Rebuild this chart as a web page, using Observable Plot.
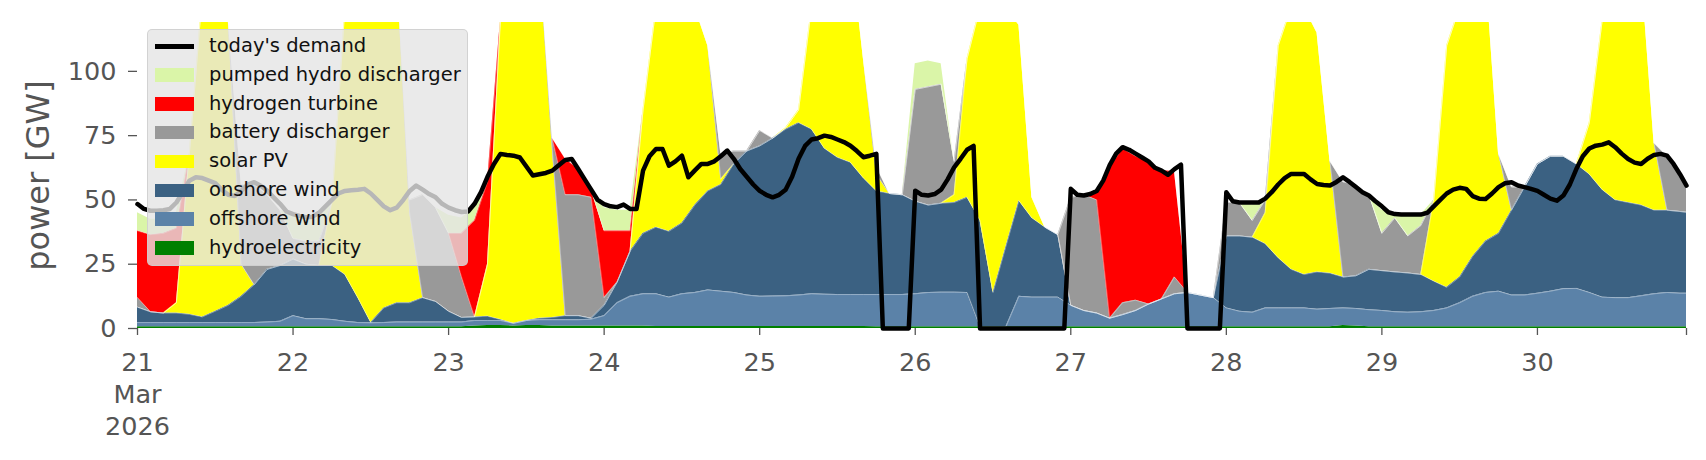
<!DOCTYPE html>
<html><head><meta charset="utf-8">
<script src="https://cdn.jsdelivr.net/npm/d3@7"></script>
<script src="https://cdn.jsdelivr.net/npm/@observablehq/plot@0.6"></script>
<style>
body{margin:0;background:#fff;font-family:"DejaVu Sans",sans-serif;}
#wrap{position:relative;width:1706px;height:460px;overflow:hidden;}
#legend{position:absolute;left:147px;top:29px;width:321px;height:237px;background:rgba(229,229,229,0.8);border:1px solid rgba(204,204,204,0.8);border-radius:5px;box-sizing:border-box;}
.row{position:absolute;left:0;height:28px;width:320px;}
.sw{position:absolute;left:7px;width:39px;}
.lab{position:absolute;left:61px;top:0;line-height:28px;font-size:19.5px;color:#111;white-space:nowrap;}
</style>
</head><body>
<div id="wrap"><div id="chart"></div><div id="legend"></div></div>
<script>
// ---- data (GW) ----
const seriesNames = ["hydroelectricity","offshore wind","onshore wind","solar PV","battery discharger","hydrogen turbine","pumped hydro discharger"];
const seriesColors = ["#008000","#5b82a8","#3b6182","#ffff00","#999999","#ff0000","#daf5a8"];
// area samples every 2 hours from 21 Mar 00:00, last sample at 30 Mar 23:00
const hydro = [
 .7,.7,.7,.7,.7,.7,.7,.7,.7,.7,.7,.7,
 .7,.7,.7,.7,.7,.7,.7,.7,.7,.7,.7,.7,
 .7,.7,1,1.2,1.2,1,1.2,1.2,1,1,1,1,
 1,1,1,1,.8,.8,.8,.8,.8,.8,.8,.8,
 .8,.8,.8,.8,.8,.8,.8,.8,.8,.7,.7,.7,
 .7,.7,.7,.7,.7,.7,.7,.7,.7,.7,.7,.7,
 .7,.7,.7,.7,.7,.7,.7,.7,.7,.7,.7,.7,
 .7,.7,.7,.7,.7,.7,.7,.7,.7,1.2,1,.7,
 .7,.7,.7,.7,.7,.7,.7,.7,.7,.7,.7,.7,
 .7,.7,.7,.7,.7,.7,.7,.7,.7,.7,.7,.7,
 .7];
const offshore = [
 1.6,1.6,1.6,1.6,1.6,1.6,1.6,1.6,1.6,1.6,1.8,2.1,
 4.3,3.1,3.1,2.8,2.1,1.6,1.5,1.6,1.8,1.8,1.8,1.8,
 1.8,1.8,2.1,1.9,1.9,1.0,1.9,2.2,2.4,2.4,2.4,2.6,
 4,9,11.5,12.5,12.7,11.4,12.7,13.2,14.2,13.7,13.2,12.2,
 11.7,11.8,11.9,12.2,12.7,12.5,12.4,12.4,12.4,12.5,12.5,12.5,
 12.8,13.3,13.4,13.4,13.3,0,0,0,11.8,11.5,11.5,11.5,
 8.3,6.3,5.3,3.3,4.7,6.3,8.8,10.8,12.8,13.3,12.3,11.3,
 7.3,6,5.6,7.3,7.3,7.3,7.3,6.8,7.1,6.8,6.8,6.6,
 6.3,5.8,5.6,5.8,6.3,7.3,9.3,11.8,13.3,13.8,12.3,12.3,
 13,13.8,14.8,14.9,13.3,11.5,11.3,11.3,12,12.8,13.3,13,
 13];
const onshore = [
 6,4.2,3.7,3.7,3.2,2.2,4.4,6.7,10.2,14.7,20.5,21.7,
 22,21.2,20.7,21,18.2,9.7,0.1,5.7,7.5,7.5,9.5,8,
 4.2,1.8,1.4,1.7,0.4,0,0,0.6,0.9,1.6,1.6,0.4,
 4,8,17.5,23.5,25.9,25.6,27.5,34,38.5,41.5,50,56,
 58.5,61.4,64.8,67,64,56.7,53.3,51.4,45.3,40.3,39.3,38.8,
 36,34,34.6,34.9,37,41.3,13.3,31.3,37.2,30.8,27.2,24.3,
 0,0,0,0,0,0,0,0,0,0,0,0,
 28,29.3,29.2,25,19.5,15,13,14.5,13.7,12,12.7,15.7,
 15.5,15.5,15.3,14.5,11.4,8,10,15.5,20,22.5,33,42,
 50.3,52.5,51.5,48.4,46,41.8,38,37,35.3,32.5,32,31.8,
 31.5];
const solar = [
 0,0,0,4,62.5,125.5,143.3,111,12.5,0,0,0,
 0,0,0,24.5,104,123,137.7,132,130,35,0,0,
 0,0,0,20.2,116.5,133,136.9,141,65.7,0,0,0,
 0,0,0,48,85.6,87.2,84,77,56.5,2,0,0,
 0,0,0.5,5,47.5,55,58.5,85.4,46.5,6.5,0,0,
 0,0,0,3,54,83,111,93,68.3,8,0,0,
 0,0,0,0,0,0,0,0,0,0,0,0,
 0,0,0,12,82.5,102,104,93,43.5,0,0,0,
 0,0,0,0,31.6,94,105,97,106,31,0,0,
 0,0,0,0,20,66,75,76,92,26,0,0,
 0];
const battery = [
 3.7,0,0,0,0,0,0,0,31,39,29,21.5,
 8,9,9.5,0,0,0,0,0,0,5,40,36.5,
 30.3,15.7,0,0,0,0,0,0,4,47,47,47,
 3,0,0,0,0,0,0,0,0,10,5,0,
 6,0,0,0,0,0,0,0,0,3,0,0,
 43.5,46,46.3,13,0,0,0,0,0,0,0,0,
 42,45,44,0,4.6,4,0,0,6.5,0,0,0,
 13,13,6.5,5,0,0,0,0,0,37,35.5,29,
 14.5,21,14.4,19,0,0,0,0,0,0,9,0,
 0,0,0,0,0,0,0,0,0,0,21,14.5,
 11];
const hydrogen = [
 26,30,31,29,0,0,0,0,0,0,0,0,
 0,0,0,0,0,0,0,0,0,0,0,0,
 0,17,37.5,32,0,0,0,0,0,14,10,3,
 26,20,8,0,0,0,0,0,0,0,0,0,
 0,0,0,0,0,0,0,0,0,0,0,0,
 0,0,0,0,0,0,0,0,0,0,0,0,
 0,0,3,59,60,56,55.5,50,41,0,0,0,
 0,0,0,0,0,0,0,0,0,0,0,0,
 0,0,0,0,0,0,0,0,0,0,0,0,
 0,0,0,0,0,0,0,0,0,0,0,0,
 0];
const pumpedHydro = [
 7,6,5.5,6,0,0,0,0,0,0,0,0,
 9,9,9,0,0,0,0,0,0,0,0,0,
 7,6,5,0,0,0,0,0,0,0,0,0,
 9,8,8,0,0,0,0,0,0,0,0,0,
 0,0,0,0,0,0,0,0,0,0,0,0,
 10,10,8,0,0,0,0,0,0,0,0,0,
 0,0,0,0,0,0,0,0,0,0,0,0,
 0,0,6,0,0,0,0,0,0,0,0,0,
 9,2,8,4,0,0,0,0,0,0,0,0,
 0,0,0,0,0,0,0,0,0,0,0,0,
 0];
// hourly demand
const demand = [
 48.4,46.5,45.8,45.8,46,46.5,49,53,57.5,58.8,58.5,57.5,56.5,54,52,51.5,53.5,56,56.9,55.5,53.6,51,48.5,45.5,
 44.5,43.8,43.3,43.5,45,47.5,50,52.5,53.5,53.8,54,54.3,52.5,50,47.5,46,47,50,53.5,55.6,54,52.3,51,48.5,
 47,46,45.3,45.5,48.5,53,59,64,67.9,67.5,67.2,66.5,63,59.5,60,60.5,61.4,63.5,65.5,65.9,62,58,54,50,
 48.4,47.5,47.2,48.2,46.5,46.5,61.4,67,69.8,69.8,63.3,65,67.2,58.8,61.5,64,64,65,67,69.2,66,62,59,56,
 53.5,52,51,52,54,59,66,71,73.5,74,75,74.5,73.5,72.5,71.1,69,66.6,67.2,67.9,0,0,0,0,0,
 53.6,52,51.7,52.3,54,58,62.7,66,69.5,71,0,0,0,0,0,0,0,0,0,0,0,0,0,0,
 54.3,52,51.7,52.3,53.5,57.5,63.5,68,70.5,69.5,68,66.5,65,62.5,61.4,59.8,62,63.7,0,0,0,0,0,0,
 53,49.5,49,49,49,49,50.5,53,56,58.5,60.1,60.1,60.1,58,56.2,55.8,55.6,57,58.8,57,55,53,51.7,49.5,
 47.5,45.2,44.5,44.3,44.3,44.3,44.3,45,47.5,50,52.5,54,54.7,54.3,51.5,50.5,50.4,52.5,55,56.5,56.9,55.6,55,54.3,
 53.5,52,50.5,49.7,51.7,56,62,67,70,71.1,71.5,72.4,70.5,68,65.9,64.5,64,66,67.5,67.9,67.2,64,60,55.6];
const yTicks = [0,25,50,75,100];
const dayLabels = ["21\nMar\n2026","22","23","24","25","26","27","28","29","30",""];
const legendItems = [
 ["today's demand","#000000","line"],
 ["pumped hydro discharger","#daf5a8","patch"],
 ["hydrogen turbine","#ff0000","patch"],
 ["battery discharger","#999999","patch"],
 ["solar PV","#ffff00","patch"],
 ["onshore wind","#3b6182","patch"],
 ["offshore wind","#5b82a8","patch"],
 ["hydroelectricity","#008000","patch"]];

// ---- build tables ----
const HOUR = 3600e3;
const start = Date.UTC(2026, 2, 21);
const t = h => new Date(start + h * HOUR);
const areaHours = d3.range(0, 240, 2).concat([239]);
const seriesValues = [hydro, offshore, onshore, solar, battery, hydrogen, pumpedHydro];
const rows = [];
seriesNames.forEach((name, k) => seriesValues[k].forEach((v, i) => rows.push({time: t(areaHours[i]), series: name, value: v})));
const seamSet = new Set(["offshore wind","onshore wind","solar PV","battery discharger","hydrogen turbine"]);
const seams = [];
areaHours.forEach((h, i) => {
  let acc = 0;
  seriesNames.forEach((name, k) => { acc += seriesValues[k][i]; if (seamSet.has(name)) seams.push({time: t(h), series: name, top: acc}); });
});
const demandRows = demand.map((v, h) => ({time: t(h), value: v}));
const xTicks = d3.range(0, 240, 24).concat([239]).map(t);

const chart = Plot.plot({
  width: 1706, height: 460,
  marginLeft: 137, marginRight: 20, marginTop: 22, marginBottom: 132,
  x: {type: "utc", domain: [t(0), t(239)]},
  y: {domain: [0, 119]},
  color: {domain: seriesNames, range: seriesColors},
  style: {fontFamily: "DejaVu Sans, sans-serif", fontSize: "25.5px", color: "#555", background: "white", overflow: "visible"},
  marks: [
    Plot.areaY(rows, {x: "time", y: "value", z: "series", fill: "series", order: seriesNames, clip: true}),
    Plot.line(seams, {x: "time", y: "top", z: "series", stroke: "white", strokeOpacity: 0.45, strokeWidth: 0.8, clip: true}),
    Plot.lineY(demandRows, {x: "time", y: "value", stroke: "black", strokeWidth: 4.5, strokeLinejoin: "round"}),
    Plot.axisY({ticks: yTicks, tickSize: 9, tickPadding: 12, label: null, fill: "#555", stroke: "#555", strokeWidth: 1.3}),
    Plot.axisX({ticks: xTicks, tickSize: 7, tickPadding: 12, label: null, fill: "#555", stroke: "#555", strokeWidth: 1.3,
      tickFormat: (d, i) => dayLabels[i], lineHeight: 1.27}),
    Plot.text(["power [GW]"], {frameAnchor: "left", textAnchor: "middle", lineAnchor: "middle", dx: -99, rotate: -90, fontSize: 32, fill: "#555"})
  ]
});
document.getElementById("chart").appendChild(chart);

const leg = document.getElementById("legend");
legendItems.forEach(([name, color, kind], i) => {
  const row = document.createElement("div");
  row.className = "row";
  row.style.top = (2 + i * 28.8) + "px";
  const sw = document.createElement("div");
  sw.className = "sw";
  if (kind === "line") { sw.style.top = "11.5px"; sw.style.height = "5px"; sw.style.background = color; }
  else { sw.style.top = "7.5px"; sw.style.height = "13.5px"; sw.style.background = color; }
  const lab = document.createElement("div");
  lab.className = "lab";
  lab.textContent = name;
  row.appendChild(sw); row.appendChild(lab);
  leg.appendChild(row);
});
</script>
</body></html>
